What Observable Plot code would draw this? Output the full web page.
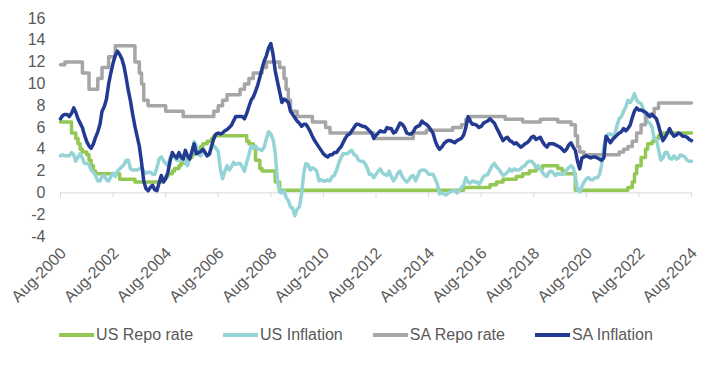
<!DOCTYPE html>
<html><head><meta charset="utf-8">
<script src="https://cdn.jsdelivr.net/npm/d3@7"></script>
<script src="https://cdn.jsdelivr.net/npm/@observablehq/plot@0.6"></script>
<style>
body{margin:0;background:#fff;font-family:"Liberation Sans",Arial,sans-serif;}
#legend{display:flex;justify-content:center;gap:30px;margin-top:14px;font-size:16px;line-height:18px;color:#595959;}
.item{display:flex;align-items:center;}
.sw{width:35px;height:4px;margin-right:2px;}
</style></head><body><div id="chart"></div><div id="legend"></div>
<script>
// Monthly series start Aug-2000
const firstMonth = "2000-08-01";
const usInflation = [
  3.4,3.5,3.4,3.4,3.4,
  3.7,3.5,2.9,3.3,3.6,3.2,2.7,2.7,2.6,2.1,1.9,1.6,
  1.1,1.1,1.5,1.6,1.2,1.1,1.5,1.8,1.5,2.0,2.2,2.4,
  2.6,3.0,3.0,2.2,2.1,2.1,2.1,2.2,2.3,2.0,1.8,1.9,
  1.9,1.7,1.7,2.3,3.1,3.3,3.0,2.7,2.5,3.2,3.5,3.3,
  3.0,3.0,3.1,3.5,2.8,2.5,3.2,3.6,4.7,4.3,3.5,3.4,
  4.0,3.6,3.4,3.5,4.2,4.3,4.1,3.8,2.1,1.3,2.0,2.5,
  2.1,2.4,2.8,2.6,2.7,2.7,2.4,2.0,2.8,3.5,4.3,4.1,
  4.3,4.0,4.0,3.9,4.2,5.0,5.6,5.4,4.9,3.7,1.1,0.1,
  0.0,0.2,-0.4,-0.7,-1.3,-1.4,-2.1,-1.5,-1.3,-0.2,1.8,2.7,
  2.6,2.1,2.3,2.2,2.0,1.1,1.2,1.1,1.1,1.2,1.1,1.5,
  1.6,2.1,2.7,3.2,3.6,3.6,3.6,3.8,3.9,3.5,3.4,3.0,
  2.9,2.9,2.7,2.3,1.7,1.7,1.4,1.7,2.0,2.2,1.8,1.7,
  1.6,2.0,1.5,1.1,1.4,1.8,2.0,1.5,1.2,1.0,1.2,1.5,
  1.6,1.1,1.5,2.0,2.1,2.1,2.0,1.7,1.7,1.7,1.3,0.8,
  -0.1,0.0,-0.1,-0.2,0.0,0.1,0.2,0.2,0.0,0.2,0.5,0.7,
  1.4,1.0,0.9,1.1,1.0,1.0,0.8,1.1,1.5,1.6,1.7,2.1,
  2.5,2.7,2.4,2.2,1.9,1.6,1.7,1.9,2.2,2.0,2.2,2.1,
  2.1,2.2,2.4,2.5,2.8,2.9,2.9,2.7,2.3,2.5,2.2,1.9,
  1.6,1.5,1.9,2.0,1.8,1.6,1.8,1.7,1.7,1.8,2.1,2.3,
  2.5,2.3,1.5,0.3,0.1,0.6,1.0,1.3,1.4,1.2,1.2,1.4,
  1.4,1.7,2.6,4.2,5.0,5.4,5.4,5.3,5.4,6.2,6.8,7.0,
  7.5,7.9,8.5,8.3,8.6,9.1,8.5,8.3,8.2,7.7,7.1,6.5,
  6.4,6.0,5.0,4.9,4.0,3.0,3.2,3.7,3.7,3.2,3.1,3.4,
  3.1,3.2,3.5,3.4,3.3,3.0,2.9,2.9
];
const saInflation = [
  6.8,7.1,7.2,7.2,7.0,
  7.3,7.8,7.4,6.8,6.4,6.0,5.3,4.7,4.3,4.1,4.5,5.1,
  5.6,6.3,7.5,7.9,8.6,10.0,11.0,11.9,12.6,13.0,12.7,12.3,
  11.6,10.5,9.4,8.4,7.2,6.1,5.2,4.3,2.8,1.1,0.4,0.2,
  0.5,0.7,0.3,0.2,0.9,1.6,1.0,1.3,1.9,2.9,3.7,3.4,
  3.2,3.7,3.3,3.1,3.9,3.4,3.1,3.8,4.5,3.6,3.7,3.8,
  4.0,3.7,3.4,3.6,4.3,5.0,5.4,5.5,5.4,5.5,5.7,5.8,
  6.0,6.2,6.6,7.0,7.0,7.0,7.0,6.8,7.3,7.9,8.5,8.8,
  9.3,9.9,10.6,11.4,12.1,12.6,13.3,13.7,12.7,11.2,10.2,9.3,
  8.3,8.6,8.5,8.3,7.5,7.2,6.9,6.6,6.4,6.1,6.3,6.3,
  6.0,5.6,5.2,4.8,4.5,4.2,3.9,3.6,3.4,3.3,3.5,3.5,
  3.7,3.7,4.0,4.2,4.6,5.0,5.3,5.4,5.7,6.0,6.3,6.3,
  6.2,6.1,6.1,5.9,5.7,5.5,5.0,5.3,5.5,5.7,5.6,5.6,
  6.0,5.9,5.9,5.5,5.6,6.0,6.4,6.3,6.0,5.5,5.4,5.4,
  5.6,6.0,6.1,6.2,6.6,6.4,6.3,6.1,5.8,5.5,4.8,4.3,
  4.0,4.2,4.5,4.7,4.8,4.8,4.7,4.6,4.8,4.9,5.0,5.3,
  6.0,7.0,6.6,6.3,6.3,6.2,6.0,6.1,6.4,6.5,6.6,6.8,
  6.6,6.4,6.0,5.6,5.2,4.8,5.0,5.1,4.8,4.7,4.5,4.6,
  4.4,4.2,4.3,4.5,4.6,4.8,5.1,5.2,4.9,5.0,5.1,4.7,
  4.4,4.2,4.5,4.5,4.5,4.4,4.3,4.2,4.0,3.8,4.0,4.4,
  4.6,4.2,3.9,2.9,2.2,3.2,3.3,3.4,3.3,3.2,3.3,3.3,
  3.2,3.1,3.0,3.2,5.2,4.9,4.6,4.9,5.1,5.3,5.5,5.6,
  5.9,5.7,5.9,6.2,6.9,7.5,7.8,7.6,7.6,7.5,7.4,7.2,
  7.0,7.2,7.0,6.8,6.2,5.4,4.8,5.1,5.5,5.9,5.5,5.2,
  5.3,5.5,5.4,5.2,5.2,5.1,4.9,4.8
];
// Policy rates: month of each change and the new level
const usRepoDates = ["2000-08","2001-01","2001-03","2001-04","2001-05","2001-06","2001-08","2001-09","2001-10","2001-11","2001-12","2002-11","2003-06","2004-06","2004-08","2004-09","2004-11","2004-12","2005-02","2005-03","2005-05","2005-06","2005-08","2005-09","2005-11","2005-12","2006-01","2006-03","2006-05","2006-06","2007-09","2007-10","2007-12","2008-01","2008-03","2008-04","2008-10","2008-12","2015-12","2016-12","2017-03","2017-06","2017-12","2018-03","2018-06","2018-09","2018-12","2019-07","2019-09","2019-10","2020-03","2022-03","2022-05","2022-06","2022-07","2022-09","2022-11","2022-12","2023-02","2023-03","2023-05","2023-07","2024-08"];
const usRepoRates = [6.5,5.5,5.0,4.5,4.0,3.75,3.5,3.0,2.5,2.0,1.75,1.25,1.0,1.25,1.5,1.75,2.0,2.25,2.5,2.75,3.0,3.25,3.5,3.75,4.0,4.25,4.5,4.75,5.0,5.25,4.75,4.5,4.25,3.0,2.25,2.0,1.0,0.25,0.5,0.75,1.0,1.25,1.5,1.75,2.0,2.25,2.5,2.25,2.0,1.75,0.25,0.5,1.0,1.75,2.5,3.25,4.0,4.5,4.75,5.0,5.25,5.5,5.5];
const saRepoDates = ["2000-08","2000-10","2001-06","2001-09","2002-01","2002-03","2002-06","2002-09","2003-06","2003-08","2003-09","2003-10","2003-12","2004-08","2005-04","2006-06","2006-08","2006-10","2006-12","2007-06","2007-08","2007-10","2007-12","2008-04","2008-06","2008-12","2009-02","2009-03","2009-04","2009-05","2009-08","2010-03","2010-09","2010-11","2012-07","2014-01","2014-07","2015-07","2015-11","2016-01","2016-03","2017-07","2018-03","2018-11","2019-07","2020-01","2020-03","2020-04","2020-05","2020-07","2021-11","2022-01","2022-03","2022-05","2022-07","2022-09","2022-11","2023-01","2023-03","2023-05","2024-08"];
const saRepoRates = [11.75,12.0,11.0,9.5,10.5,11.5,12.5,13.5,12.0,11.0,10.0,8.5,8.0,7.5,7.0,7.5,8.0,8.5,9.0,9.5,10.0,10.5,11.0,11.5,12.0,11.5,10.5,9.5,8.5,7.5,7.0,6.5,6.0,5.5,5.0,5.5,5.75,6.0,6.25,6.75,7.0,6.75,6.5,6.75,6.5,6.25,5.25,4.25,3.75,3.5,3.75,4.0,4.25,4.75,5.5,6.25,7.0,7.25,7.75,8.25,8.25];

const seriesNames = ["US Repo rate","US Inflation","SA Repo rate","SA Inflation"];
const seriesColors = ["#92c853","#94d3d6","#a6a6a6","#233a92"];
const xTickYears = [2000,2002,2004,2006,2008,2010,2012,2014,2016,2018,2020,2022,2024];
const yTicks = [-4,-2,0,2,4,6,8,10,12,14,16];

const parseMonth = d3.utcParse("%Y-%m");
const start = new Date(firstMonth);
const monthly = (vals, name) => vals.map((v, i) => ({date: d3.utcMonth.offset(start, i), value: v, name}));
const steps = (dates, vals, name) => dates.map((d, i) => ({date: parseMonth(d), value: vals[i], name}));

const usRepo = steps(usRepoDates, usRepoRates, seriesNames[0]);
const usInf = monthly(usInflation, seriesNames[1]);
const saRepo = steps(saRepoDates, saRepoRates, seriesNames[2]);
const saInf = monthly(saInflation, seriesNames[3]);
const xTicks = xTickYears.map(y => new Date(Date.UTC(y, 7, 1)));

const chart = Plot.plot({
  width: 712, height: 312,
  marginLeft: 60, marginRight: 21, marginTop: 18, marginBottom: 76,
  style: {fontFamily: '"Liberation Sans", Arial, sans-serif', fontSize: "16px", color: "#595959", background: "#fff"},
  x: {type: "utc", domain: [xTicks[0], xTicks[xTicks.length - 1]]},
  y: {domain: [-4, 16]},
  marks: [
    Plot.axisY({ticks: yTicks, tickSize: 0, tickPadding: 15, tickFormat: d => String(d), label: null}),
    Plot.axisX({ticks: xTicks, tickFormat: d3.utcFormat("%b-%Y"), tickRotate: -45, tickSize: 0, tickPadding: 14, dx: 3, label: null}),
    Plot.ruleY([0], {stroke: "#d9d9d9", strokeWidth: 1}),
    Plot.ruleX(xTicks, {x: d => d, y1: 0, y2: 0, insetBottom: -5, stroke: "#d9d9d9", strokeWidth: 1}),
    Plot.line(usRepo, {x: "date", y: "value", stroke: seriesColors[0], strokeWidth: 3.5, curve: "step-after"}),
    Plot.line(usInf, {x: "date", y: "value", stroke: seriesColors[1], strokeWidth: 3.5}),
    Plot.line(saRepo, {x: "date", y: "value", stroke: seriesColors[2], strokeWidth: 3.5, curve: "step-after"}),
    Plot.line(saInf, {x: "date", y: "value", stroke: seriesColors[3], strokeWidth: 3.5})
  ]
});
document.getElementById("chart").appendChild(chart);

const legend = document.getElementById("legend");
seriesNames.forEach((n, i) => {
  const item = document.createElement("div");
  item.className = "item";
  const sw = document.createElement("span");
  sw.className = "sw";
  sw.style.background = seriesColors[i];
  const t = document.createElement("span");
  t.textContent = n;
  item.appendChild(sw); item.appendChild(t);
  legend.appendChild(item);
});
</script></body></html>
